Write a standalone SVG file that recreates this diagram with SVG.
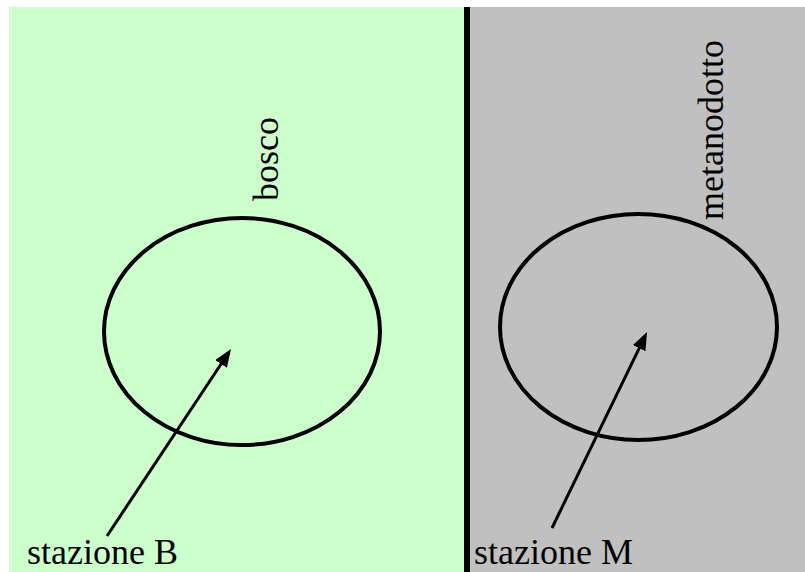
<svg xmlns="http://www.w3.org/2000/svg" width="805" height="572" viewBox="0 0 805 572">
<style>
.lbl{font-family:"Liberation Serif","Times New Roman","Nimbus Roman","Nimbus Roman No9 L",FreeSerif,"Noto Serif","DejaVu Serif",Georgia,serif;font-size:36px;fill:#000}
.ell{fill:none;stroke:#000;stroke-width:4}
.arr{stroke:#000;stroke-width:3;fill:none}
</style>
<defs>
<marker id="ah" markerUnits="userSpaceOnUse" markerWidth="20" markerHeight="16" refX="6" refY="7" orient="auto">
<path d="M0,0 L18,7 L0,14 z" fill="#000"/>
</marker>
</defs>
<rect width="805" height="572" fill="#fff"/>
<g id="bosco">
<rect x="9" y="7" width="455" height="565" fill="#ccffcc"/>
<ellipse class="ell" cx="242" cy="331.5" rx="138" ry="113.5"/>
<text class="lbl" transform="translate(278,201) rotate(-90)">bosco</text>
</g>
<g id="metanodotto">
<rect x="470" y="7" width="335" height="565" fill="#c0c0c0"/>
<ellipse class="ell" cx="638.5" cy="327" rx="138.5" ry="113"/>
<text class="lbl" transform="translate(723,220) rotate(-90)">metanodotto</text>
</g>
<g id="divider">
<rect x="464" y="7" width="6" height="565" fill="#000"/>
</g>
<g id="stazioneB">
<text class="lbl" x="27" y="564">stazione B</text>
</g>
<g id="stazioneM">
<text class="lbl" x="474" y="564">stazione M</text>
</g>
<g id="connectors">
<line class="arr" x1="107" y1="536" x2="224.4" y2="359" marker-end="url(#ah)"/>
<line class="arr" x1="552" y1="528" x2="641.8" y2="342.8" marker-end="url(#ah)"/>
</g>
</svg>
